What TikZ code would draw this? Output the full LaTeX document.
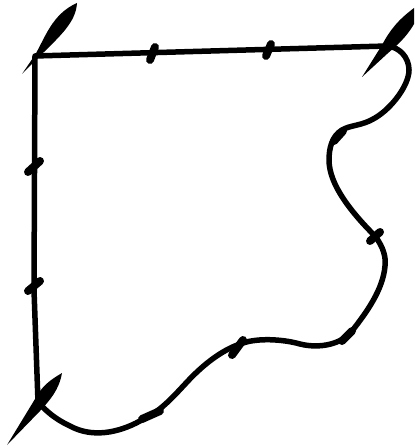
\documentclass[tikz,border=0pt]{standalone}
\usepackage{tikz}
\tikzset{
  border/.style={line width=0.11cm, line join=round},
  tick/.style={line width=0.16cm, line cap=round},
  blade/.style={fill=black, draw=none}
}
\begin{document}
\begin{tikzpicture}[x=0.02cm, y=-0.02cm]
  \useasboundingbox (0,0) rectangle (414,448);
  \coordinate (topleft) at (35,56);
  \coordinate (topright) at (387,46);
  \coordinate (bottomleft) at (38,402);
  % straight sides
  \draw[border] (bottomleft) -- (34,290) -- (topleft) -- (topright);
  % wavy side
  \draw[border] (topright) .. controls (400,47) and (409,58) .. (409,70) .. controls (409,85) and (392,108) .. (375,118) .. controls (362,126) and (350,125) .. (342,130) .. controls (332,136) and (329,148) .. (329,160) .. controls (329,185) and (352,213) .. (375,236) .. controls (384,248) and (386,258) .. (385,266) .. controls (383,290) and (366,313) .. (352,331) .. controls (342,344) and (320,349) .. (300,344) .. controls (282,339) and (258,338) .. (243,343) .. controls (220,350) and (200,368) .. (187,382) .. controls (172,398) and (160,412) .. (140,421) .. controls (118,433) and (92,438) .. (70,426) .. controls (55,419) and (46,411) .. (bottomleft);
  % marks on the straight sides
  \draw[tick] (150,60) -- (155,47);
  \draw[tick] (266,56) -- (271,44);
  \draw[tick] (28,172) -- (40,161);
  \draw[tick] (28,291) -- (40,281);
  % marks on the wavy side
  \draw[tick] (334,141) -- (343,131);
  \draw[tick] (370,241) -- (380,232);
  \draw[tick] (342,341) -- (352,331);
  \draw[tick] (232,355) -- (243,340);
  \draw[tick] (142,419) -- (160,411);
  % corners
  \fill[blade] (22,74) -- (35,55) .. controls (45,38) and (52,14) .. (77,3) .. controls (76,22) and (60,36) .. (43,53) -- cycle;
  \fill[blade] (362,77) -- (382,45) .. controls (390,30) and (398,20) .. (414,8) -- (414,24) .. controls (406,38) and (396,46) .. (387,54) -- cycle;
  \fill[blade] (7,445) -- (35,399) .. controls (42,386) and (50,380) .. (62,373) .. controls (59,390) and (50,400) .. (40,411) -- cycle;
\end{tikzpicture}
\end{document}
